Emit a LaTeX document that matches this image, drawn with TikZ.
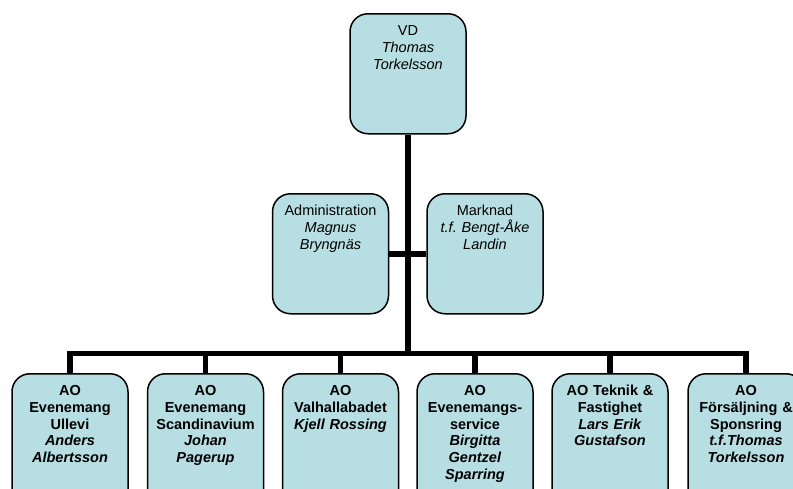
\documentclass[tikz,border=0pt]{standalone}
\usepackage{fontspec}
\setmainfont{Liberation Sans}
\usepackage{xcolor}
\definecolor{boxfill}{RGB}{183,222,226}
\frenchspacing
\tikzset{orgbox/.style={draw,line width=1.5pt,fill=boxfill,rounded corners=18pt,anchor=north,
  text width=108pt,align=center,inner xsep=4pt,inner ysep=10pt,text height=11.5pt,text depth=#1,
  font=\fontsize{14.5}{16.9}\selectfont},
  orgline/.style={line width=5.5pt,line join=miter}}

\begin{document}
\begin{tikzpicture}[x=1pt,y=-1pt]
\useasboundingbox (0,0) rectangle (793,488); \clip (0,0) rectangle (793,488);
\node[orgbox=88.5pt] (vd) at (408,13) {VD\\ \textit{Thomas}\\ \textit{Torkelsson}};
\node[orgbox=88.5pt] (adm) at (330.5,193) {Administration\\ \textit{Magnus}\\ \textit{Bryngnäs}};
\node[orgbox=88.5pt] (mark) at (485,193) {Marknad\\ \textit{t.f. Bengt-Åke}\\ \textit{Landin}};
\node[orgbox=108.5pt,font=\fontsize{14.5}{16.9}\selectfont\bfseries] (ao1) at (70,373) {AO\\ Evenemang\\ Ullevi\\ \textit{Anders}\\ \textit{Albertsson}};
\node[orgbox=108.5pt,font=\fontsize{14.5}{16.9}\selectfont\bfseries] (ao2) at (205.5,373) {AO\\ Evenemang\\ Scandinavium\\ \textit{Johan}\\ \textit{Pagerup}};
\node[orgbox=108.5pt,font=\fontsize{14.5}{16.9}\selectfont\bfseries] (ao3) at (340.5,373) {AO\\ Valhallabadet\\ \textit{Kjell Rossing}};
\node[orgbox=108.5pt,font=\fontsize{14.5}{16.9}\selectfont\bfseries] (ao4) at (475,373) {AO\\ Evenemangs-\\ service\\ \textit{Birgitta}\\ \textit{Gentzel}\\ \textit{Sparring}};
\node[orgbox=108.5pt,font=\fontsize{14.5}{16.9}\selectfont\bfseries] (ao5) at (610,373) {AO Teknik \&\\ Fastighet\\ \textit{Lars Erik}\\ \textit{Gustafson}};
\node[orgbox=108.5pt,font=\fontsize{14.5}{16.9}\selectfont\bfseries] (ao6) at (746,373) {AO\\ Försäljning \&\\ Sponsring\\ \textit{t.f.Thomas}\\ \textit{Torkelsson}};
\coordinate (bus) at (408,353.5);
\draw[orgline] (vd.south) -- (vd.south |- bus); \draw[orgline] (adm.east) -- (mark.west);
\draw[orgline] (ao1.north) -- (ao1.north |- bus) -- (ao6.north |- bus) -- (ao6.north);
\draw[orgline] (ao2.north) -- (ao2.north |- bus); \draw[orgline] (ao3.north) -- (ao3.north |- bus);
\draw[orgline] (ao4.north) -- (ao4.north |- bus); \draw[orgline] (ao5.north) -- (ao5.north |- bus);
\end{tikzpicture}
\end{document}
